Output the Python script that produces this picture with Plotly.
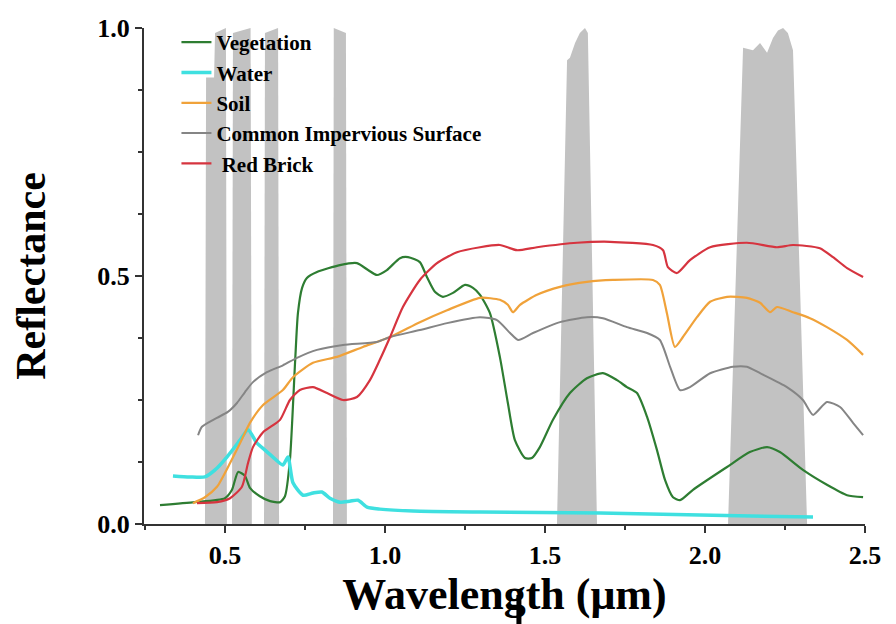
import plotly.graph_objects as go

# ---------------- data ----------------
veg_x = [0.297, 0.406, 0.5, 0.522, 0.541, 0.5625, 0.578, 0.609, 0.641, 0.672, 0.6875, 0.703, 0.719, 0.728,
         0.741, 0.756, 0.7875, 0.859, 0.9125, 0.947, 0.975, 1.006, 1.047, 1.072, 1.109, 1.131, 1.156, 1.181,
         1.2125, 1.25, 1.275, 1.297, 1.328, 1.359, 1.384, 1.406, 1.4375, 1.459, 1.484, 1.525, 1.578, 1.631,
         1.681, 1.725, 1.756, 1.7875, 1.819, 1.85, 1.875, 1.9, 1.922, 1.9625, 2.069, 2.14, 2.194, 2.234,
         2.306, 2.381, 2.444, 2.494]
veg_y = [0.038, 0.044, 0.052, 0.069, 0.105, 0.097, 0.073, 0.056, 0.046, 0.044, 0.056, 0.129, 0.325, 0.425,
         0.476, 0.496, 0.508, 0.522, 0.526, 0.512, 0.502, 0.512, 0.536, 0.538, 0.528, 0.498, 0.468, 0.458,
         0.466, 0.482, 0.476, 0.462, 0.425, 0.337, 0.244, 0.169, 0.133, 0.133, 0.155, 0.210, 0.264, 0.294,
         0.304, 0.290, 0.276, 0.264, 0.216, 0.149, 0.089, 0.054, 0.048, 0.069, 0.115, 0.145, 0.155, 0.145,
         0.109, 0.079, 0.058, 0.054]

water_x = [0.3375, 0.39, 0.4375, 0.469, 0.506, 0.547, 0.572, 0.6, 0.625, 0.65, 0.681, 0.697, 0.7125,
           0.744, 0.775, 0.803, 0.828, 0.859, 0.89, 0.916, 0.944, 0.984, 1.0875, 1.297, 1.672, 1.984, 2.3375]
water_y = [0.097, 0.095, 0.095, 0.109, 0.135, 0.169, 0.190, 0.163, 0.149, 0.135, 0.119, 0.135, 0.083,
           0.058, 0.0625, 0.0645, 0.052, 0.044, 0.046, 0.048, 0.034, 0.030, 0.026, 0.024, 0.022, 0.018, 0.014]

soil_x = [0.4, 0.4375, 0.475, 0.516, 0.547, 0.578, 0.619, 0.681, 0.7125, 0.775, 0.85, 0.931, 1.016, 1.109,
          1.194, 1.297, 1.359, 1.384, 1.4, 1.422, 1.475, 1.547, 1.631, 1.7125, 1.8375, 1.859, 1.881, 1.906,
          1.931, 1.975, 2.016, 2.069, 2.131, 2.172, 2.203, 2.225, 2.275, 2.328, 2.381, 2.444, 2.494]
soil_y = [0.042, 0.054, 0.075, 0.123, 0.163, 0.204, 0.240, 0.270, 0.296, 0.325, 0.337, 0.357, 0.377, 0.407,
          0.431, 0.456, 0.452, 0.442, 0.427, 0.442, 0.462, 0.478, 0.488, 0.492, 0.492, 0.482, 0.425, 0.357,
          0.377, 0.417, 0.448, 0.458, 0.456, 0.446, 0.427, 0.4375, 0.427, 0.415, 0.397, 0.371, 0.341]

imp_x = [0.416, 0.428, 0.475, 0.509, 0.5375, 0.5625, 0.5875, 0.631, 0.681, 0.725, 0.7875, 0.869, 0.975,
         1.016, 1.109, 1.194, 1.297, 1.35, 1.391, 1.416, 1.4625, 1.547, 1.631, 1.681, 1.756, 1.819, 1.859,
         1.891, 1.922, 1.953, 2.016, 2.0875, 2.131, 2.172, 2.256, 2.306, 2.3375, 2.381, 2.422, 2.4625, 2.494]
imp_y = [0.179, 0.196, 0.214, 0.226, 0.244, 0.266, 0.286, 0.306, 0.320, 0.335, 0.351, 0.361, 0.367,
         0.377, 0.391, 0.405, 0.417, 0.411, 0.385, 0.371, 0.385, 0.407, 0.417, 0.415, 0.397, 0.385, 0.371,
         0.317, 0.270, 0.276, 0.304, 0.317, 0.317, 0.304, 0.276, 0.250, 0.220, 0.246, 0.236, 0.204, 0.179]

brick_x = [0.4125, 0.475, 0.516, 0.553, 0.572, 0.5875, 0.619, 0.672, 0.703, 0.734, 0.775, 0.819, 0.869,
           0.9125, 0.953, 0.984, 1.016, 1.056, 1.109, 1.1625, 1.225, 1.297, 1.359, 1.4125, 1.475, 1.6,
           1.703, 1.8375, 1.869, 1.884, 1.9125, 1.953, 2.016, 2.131, 2.225, 2.275, 2.359, 2.4, 2.444, 2.494]
brick_y = [0.042, 0.044, 0.052, 0.075, 0.123, 0.155, 0.185, 0.210, 0.250, 0.270, 0.276, 0.264, 0.250,
           0.256, 0.290, 0.331, 0.377, 0.4375, 0.492, 0.526, 0.548, 0.558, 0.5625, 0.552, 0.558, 0.567,
           0.569, 0.5625, 0.552, 0.518, 0.506, 0.532, 0.558, 0.567, 0.558, 0.5625, 0.556, 0.538, 0.516, 0.498]

# relative spectral response of the sensor bands (gray areas)
band1_x = [0.4375, 0.441, 0.466, 0.469, 0.503, 0.506]
band1_y = [0.0, 0.90, 0.90, 0.99, 1.0, 0.0]
band2_x = [0.522, 0.525, 0.58, 0.584]
band2_y = [0.0, 0.99, 1.0, 0.0]
band3_x = [0.622, 0.625, 0.666, 0.669]
band3_y = [0.0, 0.99, 1.0, 0.0]
band4_x = [0.8375, 0.84, 0.878, 0.881]
band4_y = [0.0, 1.0, 0.99, 0.0]
band5_x = [1.5375, 1.569, 1.578, 1.594, 1.609, 1.625, 1.634, 1.6625]
band5_y = [0.0, 0.935, 0.94, 0.97, 0.99, 1.0, 0.99, 0.0]
band7_x = [2.072, 2.119, 2.15, 2.172, 2.194, 2.2125, 2.228, 2.244, 2.259, 2.275, 2.319]
band7_y = [0.0, 0.96, 0.955, 0.97, 0.95, 0.98, 0.995, 1.0, 0.99, 0.955, 0.0]

x_ticks = [0.5, 1.0, 1.5, 2.0, 2.5]
x_ticktext = ["0.5", "1.0", "1.5", "2.0", "2.5"]
y_ticks = [0.0, 0.5, 1.0]
y_ticktext = ["0.0", "0.5", "1.0"]

# ---------------- figure ----------------
FONT = "Liberation Serif, Times New Roman, serif"
fig = go.Figure()

band_color = "#c2c2c2"
for bx, by in [(band1_x, band1_y), (band2_x, band2_y), (band3_x, band3_y),
               (band4_x, band4_y), (band5_x, band5_y), (band7_x, band7_y)]:
    fig.add_trace(go.Scatter(x=bx, y=by, mode="lines", fill="tozeroy",
                             fillcolor=band_color, line=dict(width=0, color=band_color),
                             showlegend=False, hoverinfo="skip"))

series = [
    ("Vegetation", veg_x, veg_y, "#2e7d32", 2.2),
    ("Water", water_x, water_y, "#3fe0e0", 3.5),
    ("Soil", soil_x, soil_y, "#f0a23a", 2.2),
    ("Common Impervious Surface", imp_x, imp_y, "#858585", 2.0),
    (" Red Brick", brick_x, brick_y, "#d6343f", 2.2),
]
for name, sx, sy, col, w in series:
    fig.add_trace(go.Scatter(x=sx, y=sy, mode="lines", name=name,
                             line=dict(color=col, width=w, shape="spline", smoothing=0.6)))

fig.update_layout(
    width=888, height=616,
    margin=dict(l=136, r=31, t=20, b=100, autoexpand=False),
    plot_bgcolor="white", paper_bgcolor="white",
    font=dict(family=FONT, color="black"),
    legend=dict(x=0.045, y=1.012, xanchor="left", yanchor="top",
                bgcolor="rgba(0,0,0,0)", borderwidth=0,
                font=dict(family=FONT, size=21, color="black", weight="bold"),
                tracegroupgap=0),
    shapes=[dict(type="line", xref="paper", yref="paper",
                 x0=0.52, x1=0.52, y0=-0.143, y1=-0.205,
                 line=dict(color="black", width=5))],
)
fig.update_xaxes(range=[0.247, 2.5], showgrid=False, zeroline=False, automargin=False,
                 showline=True, linecolor="#333333", linewidth=2,
                 ticks="outside", ticklen=7, tickwidth=2, tickcolor="#333333",
                 tickvals=x_ticks, ticktext=x_ticktext,
                 tickfont=dict(family=FONT, size=26, color="black", weight="bold"),
                 minor=dict(dtick=0.25, tick0=0, ticks="outside", ticklen=4, tickwidth=2, tickcolor="#333333"),
                 title=dict(text="Wavelength (μm)", standoff=5,
                            font=dict(family=FONT, size=44, color="black", weight="bold")))
fig.update_yaxes(range=[0, 1.0], showgrid=False, zeroline=False, automargin=False,
                 showline=True, linecolor="#333333", linewidth=2,
                 ticks="outside", ticklen=7, tickwidth=2, tickcolor="#333333",
                 tickvals=y_ticks, ticktext=y_ticktext,
                 tickfont=dict(family=FONT, size=26, color="black", weight="bold"),
                 minor=dict(dtick=0.125, tick0=0, ticks="outside", ticklen=4, tickwidth=2, tickcolor="#333333"),
                 title=dict(text="Reflectance", standoff=40,
                            font=dict(family=FONT, size=42, color="black", weight="bold")))

fig.write_html("out.html")
